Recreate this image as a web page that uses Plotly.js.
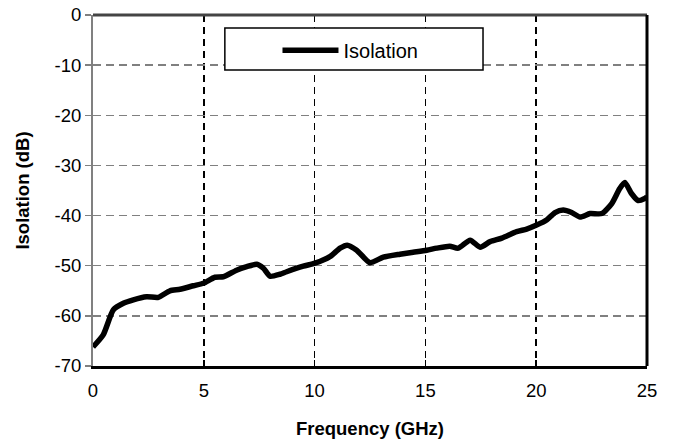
<!DOCTYPE html>
<html>
<head>
<meta charset="utf-8">
<script src="https://cdn.plot.ly/plotly-3.0.1.min.js"></script>
<style>html,body{margin:0;padding:0;background:#fff}#chart{width:673px;height:441px}</style>
</head>
<body>
<div id="chart"></div>
<script>
const freqGHz = [0, 0.46, 0.92, 1.37, 1.82, 2.42, 2.95, 3.47, 3.93, 4.53, 4.98, 5.5, 5.88, 6.48, 6.94, 7.39, 7.69, 7.99, 8.44, 8.74, 9.49, 10.02, 10.69, 11.15, 11.47, 11.9, 12.5, 13.1, 13.85, 14.45, 15.06, 15.51, 16.1, 16.48, 17.02, 17.47, 17.92, 18.45, 19.12, 19.57, 20.02, 20.47, 20.85, 21.22, 21.6, 21.98, 22.43, 22.96, 23.41, 23.77, 24.0, 24.3, 24.6, 24.9, 25];
const isolationDB = [-66.2, -63.8, -58.8, -57.5, -56.8, -56.2, -56.3, -55.0, -54.7, -54.0, -53.5, -52.3, -52.2, -50.9, -50.2, -49.7, -50.5, -52.1, -51.7, -51.2, -50.1, -49.5, -48.2, -46.5, -45.9, -46.9, -49.4, -48.3, -47.7, -47.3, -46.9, -46.5, -46.1, -46.5, -44.9, -46.3, -45.2, -44.5, -43.2, -42.7, -41.9, -40.9, -39.4, -38.9, -39.4, -40.3, -39.6, -39.6, -37.6, -34.6, -33.4, -35.6, -37.0, -36.6, -36.3];
const xTicks = [0, 5, 10, 15, 20, 25];
const yTicks = [0, -10, -20, -30, -40, -50, -60, -70];
const seriesName = 'Isolation';

const font = 'Liberation Sans, Arial, sans-serif';
const trace = {
  x: freqGHz, y: isolationDB, type: 'scatter', mode: 'lines', name: seriesName,
  line: {color: '#000', width: 5.5, shape: 'spline', smoothing: 0.6}
};
const layout = {
  width: 673, height: 441,
  margin: {l: 93, r: 26, t: 15, b: 75},
  paper_bgcolor: '#fff', plot_bgcolor: '#fff',
  font: {family: font, color: '#000', size: 18.5},
  showlegend: true,
  legend: {x: 0.333, y: 0.955, xanchor: 'left', yanchor: 'top', bgcolor: 'rgba(0,0,0,0)', borderwidth: 0,
           font: {family: font, size: 20, color: '#000'}, itemwidth: 56},
  xaxis: {
    range: [0, 25], tickvals: xTicks, ticktext: xTicks.map(String),
    showgrid: true, gridcolor: '#000', gridwidth: 1.5, griddash: '7px,5px',
    zeroline: false, showline: true, linecolor: '#000', linewidth: 3,
    ticks: 'inside', ticklen: 6, tickcolor: '#000', tickwidth: 1.5,
    ticklabelstandoff: 6,
    tickfont: {family: font, size: 18.5, color: '#000'},
    title: {text: '<b>Frequency (GHz)</b>', font: {family: font, size: 18.5, color: '#000'}, standoff: 22}
  },
  yaxis: {
    range: [-70, 0], tickvals: yTicks, ticktext: yTicks.map(String),
    showgrid: true, gridcolor: '#808080', gridwidth: 1.5, griddash: '8px,5px',
    zeroline: false, showline: true, linecolor: '#808080', linewidth: 2,
    ticks: 'outside', ticklen: 6, tickcolor: '#808080', tickwidth: 1.5,
    tickfont: {family: font, size: 18.5, color: '#000'},
    title: {text: '<b>Isolation (dB)</b>', font: {family: font, size: 18.5, color: '#000'}, standoff: 20}
  },
  shapes: [
    {type: 'rect', xref: 'paper', yref: 'paper', x0: 0.238, x1: 0.704, y0: 0.843, y1: 0.963,
     line: {color: '#000', width: 1.5}, fillcolor: '#fff', layer: 'above'},
    {type: 'line', xref: 'paper', yref: 'paper', x0: 0, x1: 1, y0: 1, y1: 1, line: {color: '#444', width: 3}},
    {type: 'line', xref: 'paper', yref: 'paper', x0: 1, x1: 1, y0: 0, y1: 1, line: {color: '#000', width: 3}}
  ]
};
Plotly.newPlot('chart', [trace], layout, {displayModeBar: false, staticPlot: true});
</script>
</body>
</html>
